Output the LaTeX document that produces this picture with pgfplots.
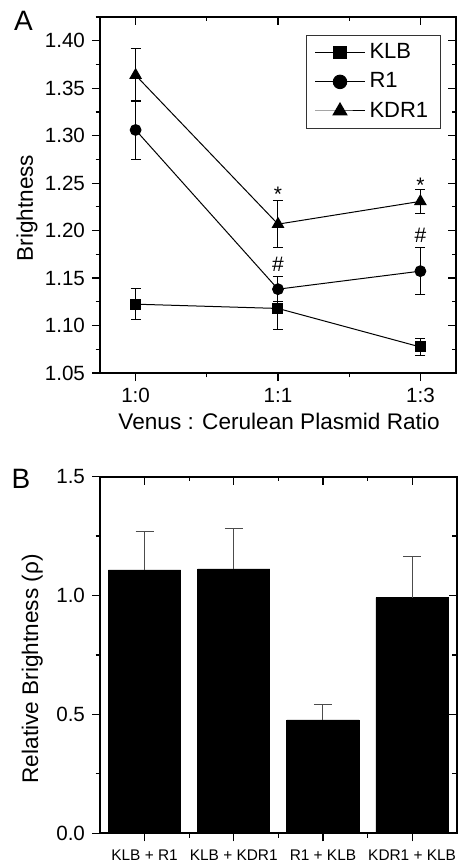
\documentclass[border=0pt]{standalone}
\usepackage{fontspec}
\setmainfont{Liberation Sans}
\usepackage{pgfplots}
\pgfplotsset{compat=1.18}

\newcommand{\fs}[1]{\fontsize{#1}{#1}\selectfont}

\pgfplotsset{
  base/.style={scale only axis, axis line style={line width=0.9pt},
    major tick length=4pt, minor tick length=2.2pt,
    every tick/.style={black, line width=0.6pt}},
  common/.style={base, tick align=outside, xtick pos=left, ytick pos=left,
    /pgf/number format/assume math mode=true,
    tick label style={font=\fs{10.3}}, label style={font=\fs{11.3}}},
  mirror/.style={base, tick align=inside, xtick pos=right, ytick pos=right,
    xticklabels={}, yticklabels={}},
  panelA/.style={at={(50pt,-186.5pt)}, anchor=south west, width=178pt, height=178pt,
    xmin=-0.25, xmax=2.25, ymin=1.05, ymax=1.425,
    xtick={0,1,2}, minor xtick={0.5,1.5},
    ytick={1.05,1.10,1.15,1.20,1.25,1.30,1.35,1.40},
    minor ytick={1.075,1.125,1.175,1.225,1.275,1.325,1.375,1.425}},
  panelB/.style={at={(50pt,-416.65pt)}, anchor=south west, width=178.35pt, height=178.35pt,
    xmin=0.5, xmax=4.5, ymin=0, ymax=1.5,
    xtick={1,2,3,4}, minor xtick={1.5,2.5,3.5},
    ytick={0,0.5,1,1.5}, minor ytick={0.25,0.75,1.25}},
  lgimg/.style={legend image code/.code={
    \draw[mark repeat=2, mark phase=2, every mark/.append style={scale=1.25}, ##1]
      plot coordinates {(0pt,0pt) (12.5pt,0pt) (25pt,0pt)};}}
}

\begin{document}
\begin{tikzpicture}

% panel A
\begin{axis}[common, panelA,
  xticklabels={1:0,1:1,1:3},
  yticklabel style={/pgf/number format/.cd, fixed, fixed zerofill, precision=2},
  xlabel={Venus : Cerulean Plasmid Ratio}, ylabel={Brightness},
  xlabel style={at={(axis description cs:0.503,-0.135)}, anchor=center},
  ylabel style={at={(axis description cs:-0.205,0.463)}, anchor=center},
  legend style={at={(axis description cs:0.957,0.949)}, anchor=north east,
    draw=black!80, line width=0.5pt, font=\fs{11}, row sep=1.5pt,
    inner xsep=4pt, inner ysep=2pt, cells={anchor=west}},
  lgimg]
\addplot[black, line width=0.5pt, mark=square*, mark size=2.5pt,
  error bars/.cd, y dir=both, y explicit, error bar style={line width=0.5pt},
  error mark options={rotate=90, mark size=2.5pt, line width=0.5pt}]
  coordinates {(0,1.1225) +- (0,0.0165) (1,1.118) +- (0,0.022) (2,1.0774) +- (0,0.0085)};
\addlegendentry{KLB}
\addplot[black, line width=0.5pt, mark=*, mark size=2.7pt,
  error bars/.cd, y dir=both, y explicit, error bar style={line width=0.5pt},
  error mark options={rotate=90, mark size=2.5pt, line width=0.5pt}]
  coordinates {(0,1.306) +- (0,0.031) (1,1.1383) +- (0,0.013) (2,1.1573) +- (0,0.025)};
\addlegendentry{R1}
\addplot[black, line width=0.5pt, mark=triangle*, mark size=3.2pt,
  error bars/.cd, y dir=both, y explicit, error bar style={line width=0.5pt},
  error mark options={rotate=90, mark size=2.5pt, line width=0.5pt}]
  coordinates {(0,1.3637) +- (0,0.028) (1,1.2068) +- (0,0.025) (2,1.2308) +- (0,0.0125)};
\addlegendentry{KDR1}
\node[anchor=base, inner sep=0, font=\fs{10.5}] at (axis cs:1,1.231) {*};
\node[anchor=base, inner sep=0, font=\fs{10.5}] at (axis cs:2,1.2406) {*};
\node[anchor=base, inner sep=0, font=\fs{10.5}] at (axis cs:1,1.1565) {\#};
\node[anchor=base, inner sep=0, font=\fs{10.5}] at (axis cs:2,1.1871) {\#};
\end{axis}
\begin{axis}[mirror, panelA]
\end{axis}

% panel B
\begin{axis}[common, panelB,
  xticklabels={KLB + R1, KLB + KDR1, R1 + KLB, KDR1 + KLB},
  xticklabel style={font=\fs{7.7}, yshift=-1pt},
  yticklabel style={/pgf/number format/.cd, fixed, fixed zerofill, precision=1},
  ylabel={Relative Brightness (ρ)},
  ylabel style={at={(axis description cs:-0.19,0.461)}, anchor=center}]
\addplot[ybar, bar width=0.81, fill=black, draw=black,
  error bars/.cd, y dir=plus, y explicit,
  error bar style={black!70, line width=0.5pt},
  error mark options={rotate=90, mark size=4.5pt, black!70, line width=0.5pt}]
  coordinates {(1,1.1075) +- (0,0.161) (2,1.1117) +- (0,0.17) (3,0.4766) +- (0,0.066) (4,0.991) +- (0,0.175)};
\end{axis}
\begin{axis}[mirror, panelB]
\end{axis}

\node[font=\fs{14}] at (11.75pt,-10.5pt) {A};
\node[font=\fs{14}] at (10.5pt,-239.5pt) {B};

\pgfresetboundingbox
\useasboundingbox (0,0) rectangle (229pt,-431.5pt);
\end{tikzpicture}
\end{document}
